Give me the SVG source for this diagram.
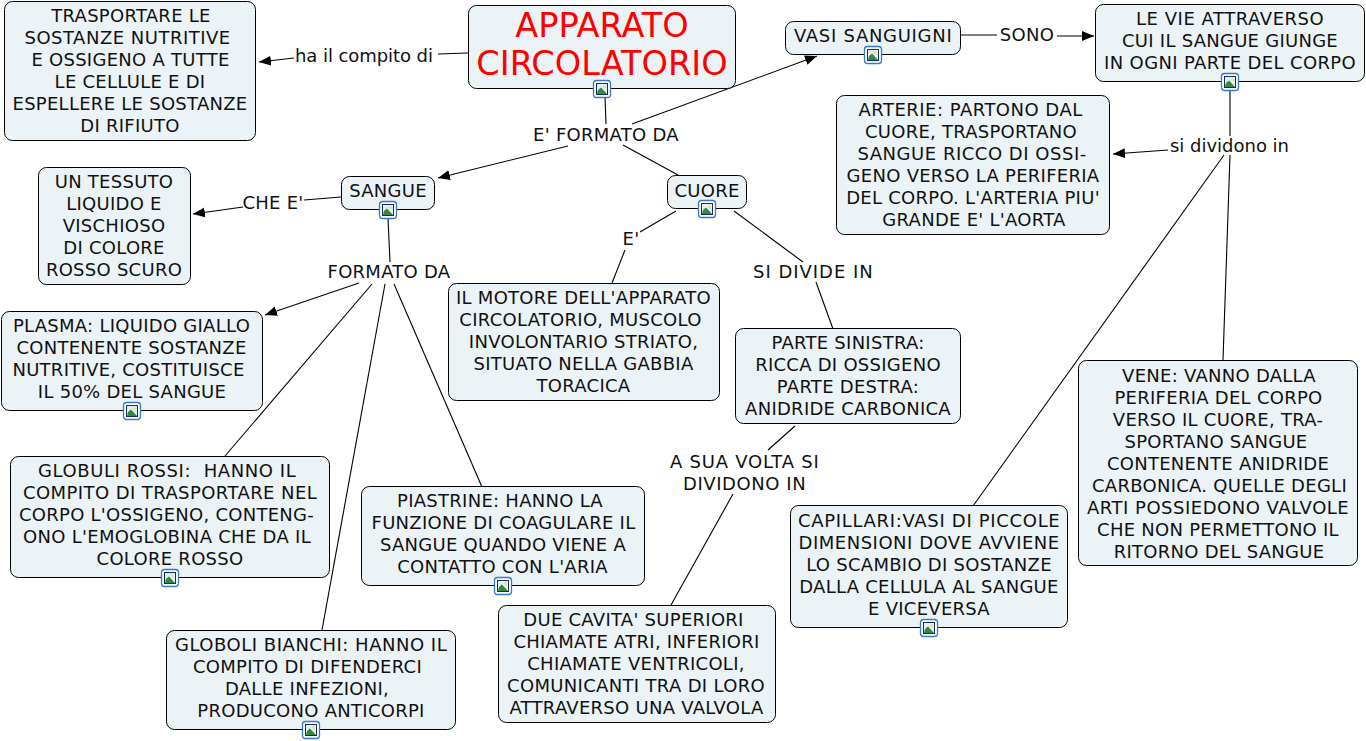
<svg xmlns="http://www.w3.org/2000/svg" width="1366" height="741" viewBox="0 0 1366 741">
<style>
text{font-family:"DejaVu Sans",Verdana,sans-serif;font-size:18px;letter-spacing:.27px;fill:#111;text-anchor:middle}
.t{font-size:33.6px;letter-spacing:0;fill:#f00}
.lc{letter-spacing:0}
.b{fill:#ecf3f6;stroke:#000;stroke-width:1}
.l{fill:none;stroke:#000;stroke-width:1.1}
</style>
<defs>
<marker id="a" markerUnits="userSpaceOnUse" markerWidth="14" markerHeight="12" refX="12" refY="5" orient="auto"><path d="M0 0L12 5L0 10z" fill="#000"/></marker>
<g id="i"><rect x="-8.500" y="-8.500" width="17" height="17" rx="3" fill="#fff" stroke="#3a78c8" stroke-width="1.300"/><rect x="-5.500" y="-5.500" width="11" height="11" fill="#e3eefa" stroke="#12305c" stroke-width="1"/><circle cx="2.500" cy="-2.500" r="1.600" fill="#f5e27a"/><path d="M-5 5L-4 1L-1 -1.500L5 5z" fill="#2f8a3c"/></g>
</defs>
<g id="connectors">
<path class="l" d="M468 53L438 54"/><path class="l" marker-end="url(#a)" d="M294 58L259 62"/>
<path class="l" d="M605 97L606 124"/>
<path class="l" marker-end="url(#a)" d="M632 124L817 56"/>
<path class="l" marker-end="url(#a)" d="M568 146L438 178"/>
<path class="l" d="M623 145L678 175"/>
<path class="l" d="M961 35L997 35"/><path class="l" marker-end="url(#a)" d="M1057 36L1094 36"/>
<path class="l" d="M1230 91L1230 136"/>
<path class="l" marker-end="url(#a)" d="M1168 150L1113 154"/>
<path class="l" d="M1230 155L1223 360"/>
<path class="l" d="M1224 155L973 506"/>
<path class="l" d="M341 197L304 200"/><path class="l" marker-end="url(#a)" d="M243 207L193 214"/>
<path class="l" d="M388 218L390 262"/>
<path class="l" marker-end="url(#a)" d="M359 283L265 315"/>
<path class="l" d="M372 284L225 456"/>
<path class="l" d="M385 284L322 630"/>
<path class="l" d="M394 284L482 487"/>
<path class="l" d="M676 211L640 232"/>
<path class="l" d="M625 250L612 283"/>
<path class="l" d="M734 211L803 262"/>
<path class="l" d="M816 282L833 329"/>
<path class="l" d="M795 426L768 450"/>
<path class="l" d="M733 494L671 605"/>
</g>
<g id="n1"><rect class="b" x="4.500" y="1.500" width="251" height="139" rx="8"/><text x="131" y="22">TRASPORTARE LE</text><text x="127.500" y="44" textLength="206">SOSTANZE NUTRITIVE</text><text x="130.500" y="66">E OSSIGENO A TUTTE</text><text x="130" y="88">LE CELLULE E DI</text><text x="130" y="110">ESPELLERE LE SOSTANZE</text><text x="130" y="132">DI RIFIUTO</text></g>
<g id="n2"><rect class="b" x="468.500" y="5.500" width="267" height="83" rx="8"/><text class="t" x="602" y="37">APPARATO</text><text class="t" x="602" y="75">CIRCOLATORIO</text><use href="#i" x="602" y="89"/></g>
<g id="n3"><rect class="b" x="785.500" y="21.500" width="175" height="33" rx="8"/><text x="873" y="42" textLength="158">VASI SANGUIGNI</text><use href="#i" x="873" y="55"/></g>
<g id="n4"><rect class="b" x="1095.500" y="4.500" width="269" height="77" rx="8"/><text x="1230" y="25" textLength="188">LE VIE ATTRAVERSO</text><text x="1230" y="47" textLength="216">CUI IL SANGUE GIUNGE</text><text x="1230" y="69" textLength="252">IN OGNI PARTE DEL CORPO</text><use href="#i" x="1230" y="82"/></g>
<g id="n5"><rect class="b" x="836.500" y="95.500" width="273" height="139" rx="8"/><text x="970.500" y="116" textLength="224">ARTERIE: PARTONO DAL</text><text x="971" y="138" textLength="212">CUORE, TRASPORTANO</text><text x="972" y="160" textLength="229">SANGUE RICCO DI OSSI-</text><text x="973" y="182">GENO VERSO LA PERIFERIA</text><text x="973" y="204">DEL CORPO. L'ARTERIA PIU'</text><text x="974" y="226">GRANDE E' L'AORTA</text></g>
<g id="n6"><rect class="b" x="38.500" y="167.500" width="152" height="117" rx="8"/><text x="114" y="188">UN TESSUTO</text><text x="114" y="210">LIQUIDO E</text><text x="114" y="232">VISCHIOSO</text><text x="114" y="254">DI COLORE</text><text x="114" y="276">ROSSO SCURO</text></g>
<g id="n7"><rect class="b" x="341.500" y="176.500" width="93" height="33" rx="8"/><text x="388" y="197">SANGUE</text><use href="#i" x="388" y="210"/></g>
<g id="n8"><rect class="b" x="667.500" y="175.500" width="79" height="33" rx="8"/><text x="707" y="196.500">CUORE</text><use href="#i" x="707" y="209"/></g>
<g id="n9"><rect class="b" x="1.500" y="311.500" width="261" height="99" rx="8"/><text x="131.500" y="332">PLASMA: LIQUIDO GIALLO</text><text x="131.500" y="354">CONTENENTE SOSTANZE</text><text x="128.500" y="376">NUTRITIVE, COSTITUISCE</text><text x="132" y="398">IL 50% DEL SANGUE</text><use href="#i" x="132" y="411"/></g>
<g id="n10"><rect class="b" x="448.500" y="283.500" width="271" height="117" rx="8"/><text x="583.500" y="304">IL MOTORE DELL'APPARATO</text><text x="580.500" y="326">CIRCOLATORIO, MUSCOLO</text><text x="583.500" y="348">INVOLONTARIO STRIATO,</text><text x="583.500" y="370">SITUATO NELLA GABBIA</text><text x="583.500" y="392">TORACICA</text></g>
<g id="n11"><rect class="b" x="735.500" y="328.500" width="225" height="95" rx="8"/><text x="848" y="349">PARTE SINISTRA:</text><text x="848" y="371">RICCA DI OSSIGENO</text><text x="848" y="393">PARTE DESTRA:</text><text x="848" y="415">ANIDRIDE CARBONICA</text></g>
<g id="n12"><rect class="b" x="10.500" y="456.500" width="319" height="121" rx="8"/><text x="167" y="477" style="white-space:pre" textLength="258">GLOBULI ROSSI:  HANNO IL</text><text x="170" y="499" textLength="294">COMPITO DI TRASPORTARE NEL</text><text x="166.500" y="521" textLength="295">CORPO L'OSSIGENO, CONTENG-</text><text x="167" y="543" textLength="288">ONO L'EMOGLOBINA CHE DA IL</text><text x="170" y="565">COLORE ROSSO</text><use href="#i" x="170" y="578"/></g>
<g id="n13"><rect class="b" x="361.500" y="486.500" width="283" height="99" rx="8"/><text x="500" y="507">PIASTRINE: HANNO LA</text><text x="503.500" y="529">FUNZIONE DI COAGULARE IL</text><text x="503" y="551">SANGUE QUANDO VIENE A</text><text x="502.500" y="573">CONTATTO CON L'ARIA</text><use href="#i" x="503" y="586"/></g>
<g id="n14"><rect class="b" x="166.500" y="630.500" width="289" height="99" rx="8"/><text x="311" y="651" textLength="272">GLOBOLI BIANCHI: HANNO IL</text><text x="307.500" y="673">COMPITO DI DIFENDERCI</text><text x="307" y="695">DALLE INFEZIONI,</text><text x="311" y="717">PRODUCONO ANTICORPI</text><use href="#i" x="311" y="730"/></g>
<g id="n15"><rect class="b" x="498.500" y="605.500" width="277" height="117" rx="8"/><text x="633.500" y="626">DUE CAVITA' SUPERIORI</text><text x="636.500" y="648">CHIAMATE ATRI, INFERIORI</text><text x="636" y="670">CHIAMATE VENTRICOLI,</text><text x="636" y="692" textLength="258">COMUNICANTI TRA DI LORO</text><text x="636.500" y="714">ATTRAVERSO UNA VALVOLA</text></g>
<g id="n16"><rect class="b" x="790.500" y="505.500" width="277" height="122" rx="8"/><text x="929" y="527" textLength="262">CAPILLARI:VASI DI PICCOLE</text><text x="929" y="549" textLength="261">DIMENSIONI DOVE AVVIENE</text><text x="929" y="571">LO SCAMBIO DI SOSTANZE</text><text x="929" y="593">DALLA CELLULA AL SANGUE</text><text x="929" y="615">E VICEVERSA</text><use href="#i" x="929" y="628"/></g>
<g id="n17"><rect class="b" x="1078.500" y="360.500" width="279" height="205" rx="8"/><text x="1219" y="382">VENE: VANNO DALLA</text><text x="1218.500" y="404">PERIFERIA DEL CORPO</text><text x="1218" y="426">VERSO IL CUORE, TRA-</text><text x="1216" y="448">SPORTANO SANGUE</text><text x="1218" y="470">CONTENENTE ANIDRIDE</text><text x="1219.500" y="492">CARBONICA. QUELLE DEGLI</text><text x="1218" y="514" textLength="262">ARTI POSSIEDONO VALVOLE</text><text x="1218" y="536">CHE NON PERMETTONO IL</text><text x="1219" y="558">RITORNO DEL SANGUE</text></g>
<g id="labels">
<text class="lc" x="364" y="62" textLength="138">ha il compito di</text>
<text x="606" y="141">E' FORMATO DA</text>
<text x="1027" y="41">SONO</text>
<text class="lc" x="1229.500" y="152" textLength="119">si dividono in</text>
<text x="273" y="209">CHE E'</text>
<text x="389" y="278">FORMATO DA</text>
<text x="631" y="245">E'</text>
<text x="813" y="278" textLength="120">SI DIVIDE IN</text>
<text x="744.500" y="468" textLength="149">A SUA VOLTA SI</text>
<text x="744.500" y="490" textLength="123">DIVIDONO IN</text>
</g>
</svg>
